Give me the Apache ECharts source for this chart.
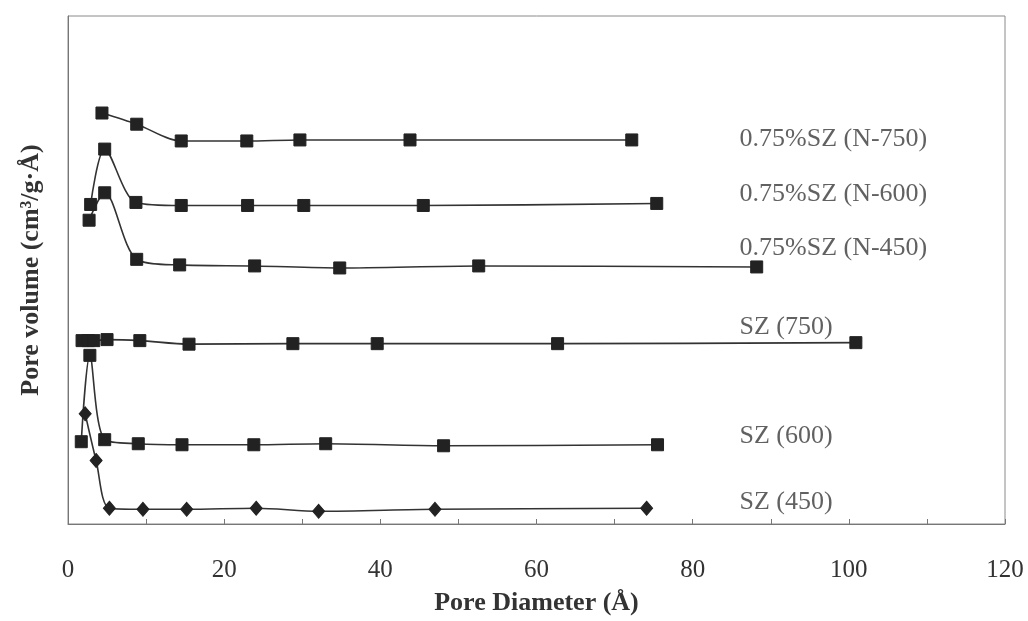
<!DOCTYPE html>
<html>
<head>
<meta charset="utf-8">
<script src="https://cdn.jsdelivr.net/npm/echarts@6/dist/echarts.min.js"></script>
<style>
html,body{margin:0;padding:0;background:#fff;}
#chart{width:1028px;height:621px;}
</style>
</head>
<body>
<div id="chart"></div>
<script>
// Pore diameter (Å) and pore volume (arbitrary offset units) for each sample
const n750X = [4.35, 8.8, 14.5, 22.9, 29.7, 43.8, 72.2];
const n750Y = [8.09, 7.87, 7.54, 7.54, 7.56, 7.56, 7.56];

const n600X = [2.9, 4.7, 8.7, 14.5, 23.0, 30.2, 45.5, 75.4];
const n600Y = [6.29, 7.38, 6.33, 6.27, 6.27, 6.27, 6.27, 6.31];

const n450X = [2.7, 4.7, 8.8, 14.3, 23.9, 34.8, 52.6, 88.2];
const n450Y = [5.98, 6.52, 5.21, 5.10, 5.08, 5.04, 5.08, 5.06];

const sz750X = [1.8, 2.6, 3.3, 5.0, 9.2, 15.5, 28.8, 39.6, 62.7, 100.9];
const sz750Y = [3.61, 3.61, 3.61, 3.63, 3.61, 3.54, 3.55, 3.55, 3.55, 3.57];

const sz600X = [1.7, 2.8, 4.7, 9.0, 14.6, 23.8, 33.0, 48.1, 75.5];
const sz600Y = [1.62, 3.32, 1.66, 1.58, 1.56, 1.56, 1.58, 1.54, 1.56];

const sz450X = [2.2, 3.6, 5.3, 9.6, 15.2, 24.1, 32.1, 47.0, 74.1];
const sz450Y = [2.17, 1.25, 0.31, 0.29, 0.29, 0.31, 0.25, 0.29, 0.31];

const seriesNames = ['0.75%SZ (N-750)', '0.75%SZ (N-600)', '0.75%SZ (N-450)', 'SZ (750)', 'SZ (600)', 'SZ (450)'];
const labelX = [86, 86, 86, 86, 86, 86];
const labelY = [7.58, 6.50, 5.43, 3.87, 1.72, 0.42];

const xTicksMin = 0, xTicksMax = 120, xTickStep = 10, xLabelStep = 20;

const FONT = '"Liberation Serif", "DejaVu Serif", serif';
const zip = (xs, ys) => xs.map((x, i) => [x, ys[i]]);

const lineSeries = (name, xs, ys, symbol) => ({
  name: name,
  type: 'line',
  data: zip(xs, ys),
  smooth: 0.3,
  symbol: symbol,
  symbolSize: symbol === 'diamond' ? [12, 14] : 12,
  showAllSymbol: true,
  lineStyle: { color: '#333', width: 1.6 },
  itemStyle: { color: '#222', borderColor: '#222' },
  z: 3
});

const chart = echarts.init(document.getElementById('chart'), null, { renderer: 'canvas' });
chart.setOption({
  animation: false,
  backgroundColor: '#fff',
  grid: {
    left: 68, right: 23, top: 16, bottom: 93,
    show: true, borderColor: '#8a8a8a', borderWidth: 1
  },
  xAxis: {
    type: 'value',
    min: xTicksMin, max: xTicksMax, interval: xTickStep,
    name: 'Pore Diameter (Å)',
    nameLocation: 'middle',
    nameGap: 66,
    nameTextStyle: { fontFamily: FONT, fontSize: 26, fontWeight: 'bold', color: '#333' },
    axisLine: { show: true, lineStyle: { color: '#777', width: 1 } },
    axisTick: { show: true, inside: true, length: 5, lineStyle: { color: '#777' } },
    axisLabel: {
      margin: 34,
      fontFamily: FONT, fontSize: 25, color: '#333',
      formatter: v => (v % xLabelStep === 0 ? String(v) : '')
    },
    splitLine: { show: false }
  },
  yAxis: {
    type: 'value',
    min: 0, max: 10,
    name: 'Pore volume (cm³/g·Å)',
    nameLocation: 'middle',
    nameGap: 24,
    nameTextStyle: { fontFamily: FONT, fontSize: 26, fontWeight: 'bold', color: '#333' },
    axisLine: { show: true, lineStyle: { color: '#777', width: 1 } },
    axisTick: { show: false },
    axisLabel: { show: false },
    splitLine: { show: false }
  },
  series: [
    lineSeries(seriesNames[0], n750X, n750Y, 'rect'),
    lineSeries(seriesNames[1], n600X, n600Y, 'rect'),
    lineSeries(seriesNames[2], n450X, n450Y, 'rect'),
    lineSeries(seriesNames[3], sz750X, sz750Y, 'rect'),
    lineSeries(seriesNames[4], sz600X, sz600Y, 'rect'),
    lineSeries(seriesNames[5], sz450X, sz450Y, 'diamond'),
    {
      type: 'scatter',
      symbolSize: 0,
      silent: true,
      data: seriesNames.map((n, i) => ({ value: [labelX[i], labelY[i]], name: n })),
      label: {
        show: true,
        position: 'right',
        distance: 0,
        formatter: p => p.name,
        fontFamily: FONT,
        fontSize: 26,
        color: '#3a3a3a'
      },
      z: 5
    }
  ]
});
</script>
</body>
</html>
